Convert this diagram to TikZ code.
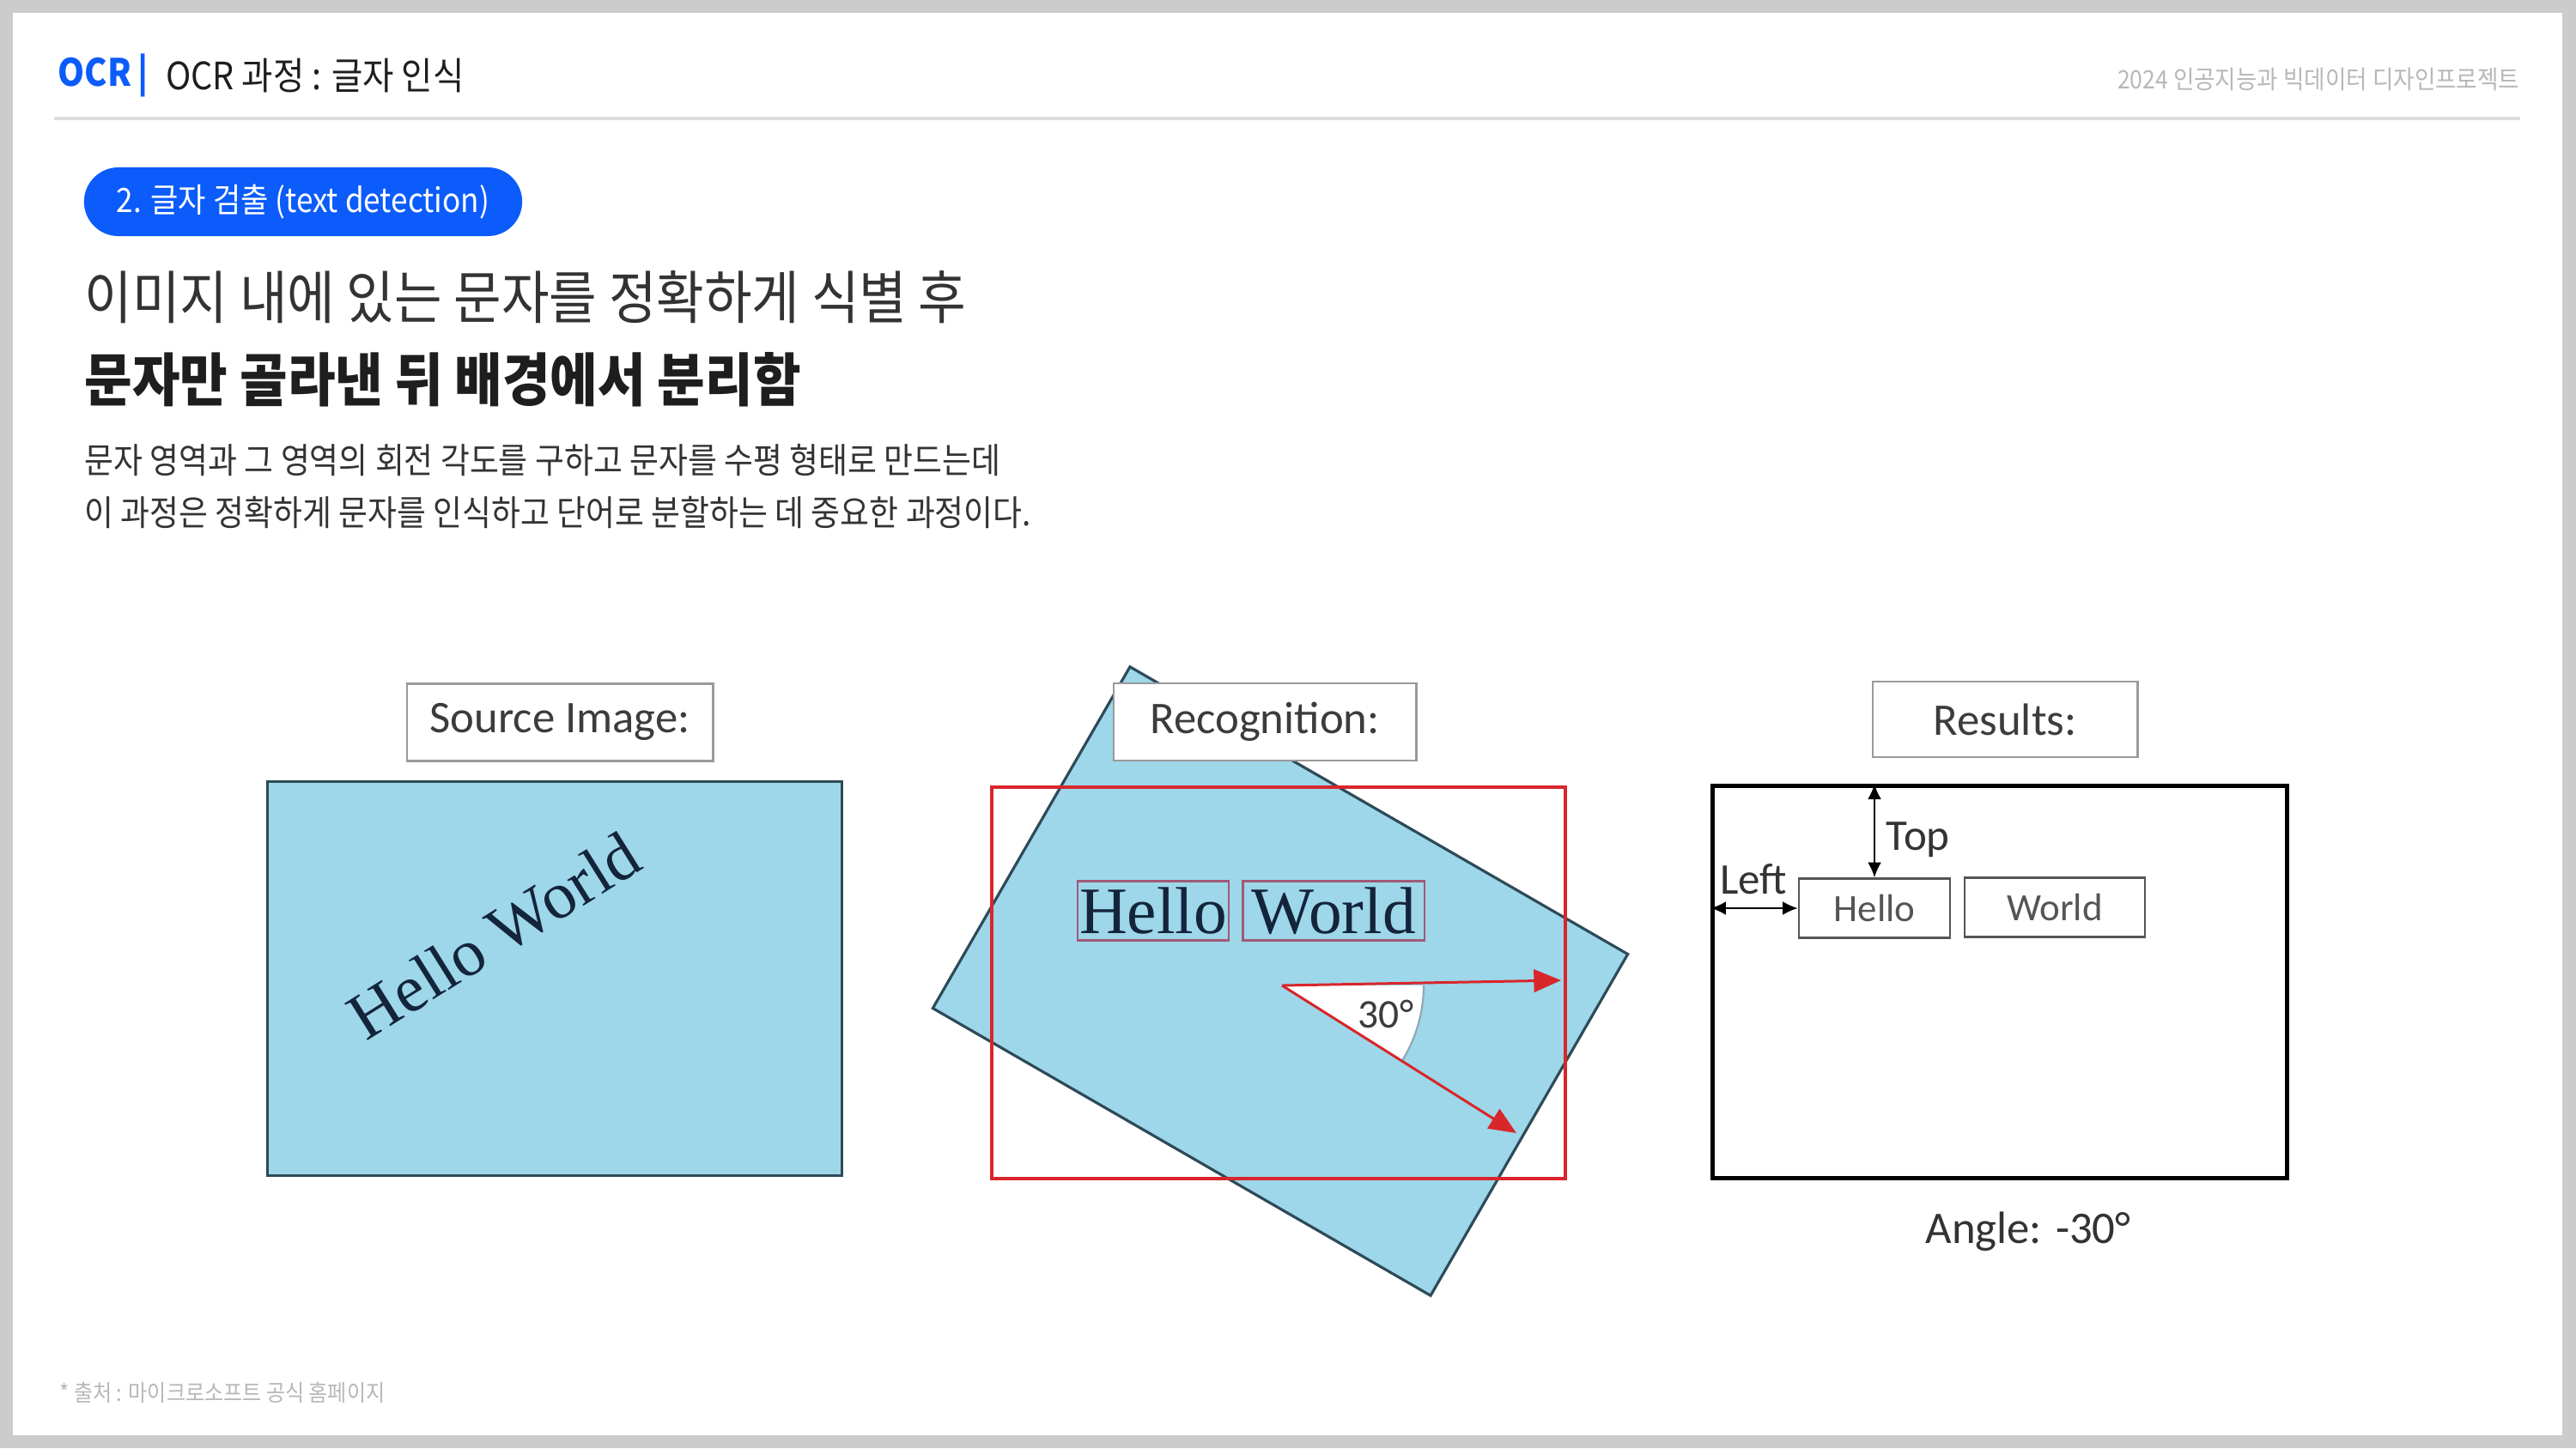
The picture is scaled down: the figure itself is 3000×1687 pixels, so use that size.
\documentclass[tikz,border=0pt]{standalone}
\usepackage{fontspec}
\setmainfont{Noto Sans CJK KR}[FakeStretch=0.9]
\newfontfamily\labelfont{Carlito}
\newfontfamily\wordfont{Liberation Serif}
\usepackage{tikz}
\usetikzlibrary{arrows.meta,positioning}
\definecolor{FrameGray}{HTML}{CCCCCC}
\definecolor{RuleGray}{HTML}{DDDDDD}
\definecolor{BrandBlue}{HTML}{0B5CFA}
\definecolor{InkDark}{HTML}{1E1E1E}
\definecolor{InkSoft}{HTML}{333333}
\definecolor{NoteGray}{HTML}{B8B8B8}
\definecolor{SkyFill}{HTML}{9DD7E9}
\definecolor{SkyEdge}{HTML}{2E4A58}
\definecolor{MarkRed}{HTML}{D8262B}
\definecolor{WordEdge}{HTML}{A05A78}
\definecolor{WordNavy}{HTML}{14243A}
\definecolor{LabelInk}{HTML}{3C3C3C}
\definecolor{TagEdge}{HTML}{9A9A9A}
\definecolor{ResInk}{HTML}{555555}
\definecolor{ArcGray}{HTML}{8FA6B6}

\begin{document}
\begin{tikzpicture}[x=0.01cm, y=-0.01cm,
  tag/.style={draw=TagEdge, line width=0.8pt, fill=white, minimum width=3.56cm,
              minimum height=0.9cm, inner sep=0pt,
              font=\labelfont\fontsize{15}{18}\selectfont, text=LabelInk},
  imgbox/.style={minimum width=6.69cm, minimum height=4.59cm, inner sep=0pt},
  wordbox/.style={draw=WordEdge, line width=0.6pt, minimum height=0.69cm, inner sep=0pt,
                  font=\wordfont\fontsize{22}{24}\selectfont, text=WordNavy},
  resbox/.style={draw=ResInk, line width=0.7pt, minimum height=0.69cm, inner sep=0pt,
                 font=\labelfont\fontsize{12.8}{14}\selectfont, text=ResInk},
  note/.style={anchor=west, inner sep=0pt},
  arr/.style={-{Triangle[length=9pt, width=7.5pt]}, MarkRed, line width=0.85pt},
  dimarr/.style={{Latex[length=5pt, width=4.5pt]}-{Latex[length=5pt, width=4.5pt]},
                 line width=0.6pt}
]
  % page frame
  \useasboundingbox (0,0) rectangle (3000,1687);
  \fill[FrameGray] (0,0) rectangle (3000,1687);
  \fill[white] (15,15) rectangle (2984,1672);

  % header
  \node[note, text=BrandBlue, font=\bfseries\fontsize{12.5}{14}\selectfont] (brand) at (67,88)
    {OCR\,|};
  \node[note, text=InkDark, font=\fontsize{12.5}{14}\selectfont, right=0.19cm of brand] (title)
    {OCR 과정 : 글자 인식};
  \node[anchor=east, inner sep=0pt, text=NoteGray, font=\fontsize{8.4}{9}\selectfont] (project)
    at (2935,92) {2024 인공지능과 빅데이터 디자인프로젝트};
  \draw[RuleGray, line width=0.9pt] (63,138) -- (2935,138);

  % intro text
  \node[fill=BrandBlue, text=white, rounded corners=0.4cm, minimum width=5.1cm,
        minimum height=0.8cm, inner sep=0pt, font=\fontsize{11.1}{12}\selectfont] (stage)
    at (353,235) {2. 글자 검출 (text detection)};
  \node[note, text=InkSoft, font=\fontsize{19.1}{21}\selectfont] (lead) at (98,346)
    {이미지 내에 있는 문자를 정확하게 식별 후};
  \node[note, text=InkDark, font=\bfseries\fontsize{19.1}{21}\selectfont] (leadbold) at (98,442)
    {문자만 골라낸 뒤 배경에서 분리함};
  \node[note, text=InkSoft, font=\fontsize{11.65}{13}\selectfont] (body1) at (98,536)
    {문자 영역과 그 영역의 회전 각도를 구하고 문자를 수평 형태로 만드는데};
  \node[note, text=InkSoft, font=\fontsize{11.65}{13}\selectfont] (body2) at (98,597)
    {이 과정은 정확하게 문자를 인식하고 단어로 분할하는 데 중요한 과정이다.};

  % source image
  \node[imgbox, fill=SkyFill, draw=SkyEdge, line width=1pt] (srcimg) at (646,1140) {};
  \node[tag, above=0.21cm of srcimg, xshift=0.06cm] (srctag) {Source Image:};
  \node[rotate=32, inner sep=0pt, font=\wordfont\fontsize{22}{24}\selectfont, text=WordNavy]
    (srcword) at (575,1090) {Hello World};

  % recognition
  \node[imgbox, rotate=-30, fill=SkyFill, draw=SkyEdge, line width=0.9pt] (tilted) at (1491,1143) {};
  \node[imgbox, minimum width=6.68cm, minimum height=4.55cm, draw=MarkRed, line width=1.1pt]
    (found) at (1489,1145) {};
  \node[tag, above=0.28cm of found, xshift=-0.16cm, minimum width=3.52cm] (rectag) {Recognition:};
  \node[wordbox, minimum width=1.76cm] (rhello) at (1343,1061) {Hello};
  \node[wordbox, minimum width=2.11cm] (rworld) at (1553,1061) {World};
  \coordinate (pivot) at (1493,1148);
  \coordinate (tiph) at (1818,1142);
  \coordinate (tipd) at (1766,1320);
  \fill[white] (pivot) -- ++(0:165) arc[start angle=0, end angle=32, radius=165] -- cycle;
  \draw[ArcGray, line width=0.6pt] (pivot) ++(0:165) arc[start angle=0, end angle=32, radius=165];
  \draw[arr] (pivot) -- (tiph);
  \draw[arr] (pivot) -- (tipd);
  \node[inner sep=0pt, font=\labelfont\fontsize{13.5}{15}\selectfont, text=LabelInk] (angtxt)
    at (1614,1181) {30°};

  % results
  \node[imgbox, minimum width=6.68cm, minimum height=4.56cm, draw=black, line width=1.4pt]
    (resimg) at (2329,1144) {};
  \node[tag, above=0.3cm of resimg, xshift=0.06cm, minimum width=3.08cm, minimum height=0.88cm]
    (restag) {Results:};
  \node[resbox, minimum width=1.76cm] (hello) at (2183,1058) {Hello};
  \node[resbox, minimum width=2.10cm] (world) at (2393,1057) {World};
  \draw[dimarr] (hello.north |- resimg.north) -- (hello.north);
  \draw[dimarr] (resimg.west |- hello.west) -- (hello.west);
  \node[note, font=\labelfont\fontsize{14.5}{16}\selectfont, text=InkSoft] (toptxt)
    at (2196,978) {Top};
  \node[inner sep=0pt, font=\labelfont\fontsize{14.5}{16}\selectfont, text=InkSoft] (lefttxt)
    at (2042,1024) {Left};
  \node[inner sep=0pt, font=\labelfont\fontsize{15}{17}\selectfont, text=InkSoft] (angle)
    at (2362,1435) {Angle: -30°};

  % footnote
  \node[note, text=NoteGray, font=\fontsize{7.6}{8}\selectfont] (source) at (69,1622)
    {* 출처 : 마이크로소프트 공식 홈페이지};
\end{tikzpicture}
\end{document}
